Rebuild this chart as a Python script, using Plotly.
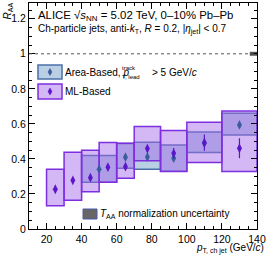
import plotly.graph_objects as go

# ---------------- data ----------------
ml_lo = [20, 30, 40, 50, 60, 70, 85, 100, 120]
ml_hi = [30, 40, 50, 60, 70, 85, 100, 120, 140]
ml_val = [0.227, 0.278, 0.293, 0.353, 0.356, 0.459, 0.432, 0.493, 0.461]
ml_stat = [0.012, 0.012, 0.012, 0.012, 0.012, 0.015, 0.03, 0.047, 0.057]
ml_sys_lo = [0.133, 0.164, 0.213, 0.267, 0.290, 0.389, 0.328, 0.379, 0.328]
ml_sys_hi = [0.341, 0.438, 0.449, 0.494, 0.490, 0.585, 0.562, 0.610, 0.674]

ab_lo = [40, 60, 70, 85, 100, 120]
ab_hi = [60, 70, 85, 100, 120, 140]
ab_val = [0.341, 0.410, 0.411, 0.404, 0.490, 0.594]
ab_stat = [0.008, 0.010, 0.010, 0.012, 0.020, 0.015]
ab_sys_lo = [0.267, 0.347, 0.341, 0.330, 0.436, 0.537]
ab_sys_hi = [0.419, 0.488, 0.495, 0.480, 0.553, 0.661]

taa_lo = [0.99]
taa_hi = [1.01]

x_ticks = [20, 40, 60, 80, 100, 120, 140]
y_ticks = [0, 0.2, 0.4, 0.6, 0.8, 1, 1.2]

# ---------------- styles ----------------
ML_LINE = "#7d2fe0"
ML_FILL = "rgba(165,105,235,0.48)"
ML_MARK = "#5a16c8"
AB_LINE = "#4a6fa8"
AB_FILL = "rgba(100,148,195,0.45)"
AB_MARK = "#3a5c9e"
FONT = "Liberation Sans, Arial, sans-serif"

W, H = 266, 259
ML, MR, MT, MB = 29, 9, 3, 30
PW, PH = W - ML - MR, H - MT - MB


def px(xp):
    return (xp - ML) / PW


def py(yp):
    return (H - MB - yp) / PH


def centers(lo, hi):
    return [(a + b) / 2 for a, b in zip(lo, hi)]


def widths(lo, hi):
    return [b - a for a, b in zip(lo, hi)]


fig = go.Figure()

# systematic boxes: area-based first, ML on top
fig.add_trace(go.Bar(
    x=centers(ab_lo, ab_hi), width=widths(ab_lo, ab_hi),
    base=ab_sys_lo, y=[h - l for h, l in zip(ab_sys_hi, ab_sys_lo)],
    marker=dict(color=AB_FILL, line=dict(color=AB_LINE, width=1.5)),
    showlegend=False, hoverinfo="skip"))
fig.add_trace(go.Bar(
    x=centers(ml_lo, ml_hi), width=widths(ml_lo, ml_hi),
    base=ml_sys_lo, y=[h - l for h, l in zip(ml_sys_hi, ml_sys_lo)],
    marker=dict(color=ML_FILL, line=dict(color=ML_LINE, width=1.5)),
    showlegend=False, hoverinfo="skip"))

# TAA normalisation box at unity
fig.add_trace(go.Bar(
    x=[138], width=[4], base=taa_lo, y=[h - l for h, l in zip(taa_hi, taa_lo)],
    marker=dict(color="#555555", line=dict(color="#555555", width=0.5)),
    showlegend=False, hoverinfo="skip"))

# points
fig.add_trace(go.Scatter(
    x=centers(ab_lo, ab_hi), y=ab_val, mode="markers",
    marker=dict(symbol="diamond-tall", size=7, color=AB_MARK),
    error_y=dict(type="data", array=ab_stat, color=AB_MARK, thickness=1.2, width=0),
    showlegend=False))
fig.add_trace(go.Scatter(
    x=centers(ml_lo, ml_hi), y=ml_val, mode="markers",
    marker=dict(symbol="diamond-tall", size=7, color=ML_MARK),
    error_y=dict(type="data", array=ml_stat, color=ML_MARK, thickness=1.2, width=0),
    showlegend=False))

shapes = []
# dashed line at unity
shapes.append(dict(type="line", xref="paper", yref="y", x0=0, x1=1, y0=1, y1=1,
                   line=dict(color="#555555", width=1, dash="3px,3px")))


def diamond(cx, cy, hw, hh, color):
    path = (f"M {cx} {cy + hh} L {cx + hw} {cy} L {cx} {cy - hh} L {cx - hw} {cy} Z")
    return dict(type="path", xref="paper", yref="paper", path=path,
                fillcolor=color, line=dict(color=color, width=0.5))


# legend boxes
shapes.append(dict(type="rect", xref="paper", yref="paper",
                   x0=px(38), x1=px(62), y0=py(79), y1=py(65),
                   fillcolor="rgba(100,148,195,0.45)", line=dict(color=AB_LINE, width=1.5)))
shapes.append(diamond(px(50), py(72), 2 / PW, 3.5 / PH, AB_MARK))
shapes.append(dict(type="rect", xref="paper", yref="paper",
                   x0=px(38), x1=px(62), y0=py(99), y1=py(84),
                   fillcolor="rgba(165,105,235,0.48)", line=dict(color=ML_LINE, width=1.5)))
shapes.append(diamond(px(50), py(91.5), 2 / PW, 3.5 / PH, ML_MARK))
shapes.append(dict(type="rect", xref="paper", yref="paper",
                   x0=px(83), x1=px(97), y0=py(219), y1=py(209),
                   fillcolor="#666666", line=dict(color="#4a5aa8", width=1)))

ann = []


def text(t, xp, yp, size=9.5, xanchor="left", yanchor="middle", **kw):
    ann.append(dict(text=t, x=px(xp), y=py(yp), xref="paper", yref="paper",
                    xanchor=xanchor, yanchor=yanchor, showarrow=False,
                    font=dict(family=FONT, size=size, color="black"), **kw))


text("ALICE √<i>s</i><sub>NN</sub> = 5.02 TeV, 0–10% Pb–Pb", 36, 16, size=11.4)
text("Ch-particle jets, anti-<i>k</i><sub>T</sub>, <i>R</i> = 0.2, |<i>η</i><sub>jet</sub>| &lt; 0.7", 36, 29.5, size=10)
text("Area-Based, <i>p</i>", 63, 72, size=10)
text("track", 120, 68.5, size=6)
text("T, lead", 120, 76.5, size=6)
text("&gt; 5 GeV/<i>c</i>", 150, 72, size=10)
text("ML-Based", 63, 92, size=10)
text("<i>T</i><sub>AA</sub> normalization uncertainty", 98, 214, size=10)
text("<i>p</i><sub>T, ch jet</sub> (GeV/<i>c</i>)", 266, 248, size=10, xanchor="right")
text("<i>R</i><sub>AA</sub>", 8, 1, size=10, xanchor="center", yanchor="top", textangle=-90)

fig.update_layout(
    template="none",
    width=W, height=H,
    margin=dict(l=ML, r=MR, t=MT, b=MB, autoexpand=False),
    paper_bgcolor="white", plot_bgcolor="white",
    barmode="overlay", bargap=0,
    showlegend=False,
    shapes=shapes, annotations=ann,
    font=dict(family=FONT, size=10.5, color="black"),
)
fig.update_xaxes(
    automargin=False,
    range=[10, 140], tickvals=x_ticks, ticktext=[str(v) for v in x_ticks],
    showgrid=False, zeroline=False, showline=True, linecolor="black", linewidth=1,
    mirror="allticks", ticks="inside", ticklen=6, tickcolor="black",
    minor=dict(ticks="inside", ticklen=3, dtick=5, tick0=0, tickcolor="black", showgrid=False),
    tickfont=dict(size=10.5),
)
fig.update_yaxes(
    automargin=False,
    range=[0, 1.29], tickvals=y_ticks, ticktext=["0", "0.2", "0.4", "0.6", "0.8", "1", "1.2"],
    showgrid=False, zeroline=False, showline=True, linecolor="black", linewidth=1,
    mirror="allticks", ticks="inside", ticklen=6, tickcolor="black",
    minor=dict(ticks="inside", ticklen=3, dtick=0.05, tick0=0, tickcolor="black", showgrid=False),
    tickfont=dict(size=10.5),
)

fig.write_html(
    "out.html",
    config={"displayModeBar": False, "staticPlot": True},
    post_script="document.body.style.margin='0';document.body.style.padding='0';"
                "document.documentElement.style.overflow='hidden';",
)
